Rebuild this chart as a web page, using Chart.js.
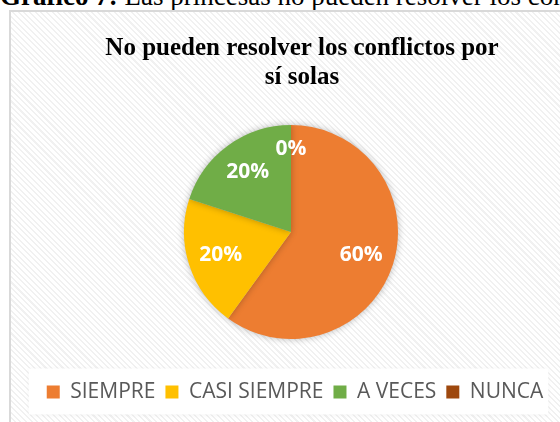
<!DOCTYPE html>
<html lang="es">
<head>
    <meta charset="UTF-8">
    <title>Gráfico 7</title>
    <script src="https://cdn.jsdelivr.net/npm/chart.js"></script>
</head>
<body>
<div class="caption"><b>Gráfico 7:</b> Las princesas no pueden resolver los conflictos por sí solas</div>
<div class="chart-frame"></div>
<canvas id="pieChart" width="560" height="422"></canvas>

<script>
    // Data
    const categories = ['SIEMPRE', 'CASI SIEMPRE', 'A VECES', 'NUNCA'];
    const percentages = [60, 20, 20, 0];
    const sliceColors = ['#ED7D31', '#FFC000', '#70AD47', '#9E480E'];
    const chartTitle = ['No pueden resolver los conflictos por', 'sí solas'];

    // Percent labels inside each slice (like Excel data labels)
    const sliceLabels = {
        id: 'sliceLabels',
        afterDatasetsDraw(chart) {
            const ctx = chart.ctx;
            const meta = chart.getDatasetMeta(0);
            ctx.save();
            ctx.font = 'bold 21px "Open Sans"';
            ctx.fillStyle = '#ffffff';
            ctx.textAlign = 'center';
            ctx.textBaseline = 'middle';
            meta.data.forEach((arc, i) => {
                const p = arc.getProps(['x', 'y', 'startAngle', 'endAngle', 'outerRadius'], true);
                const mid = (p.startAngle + p.endAngle) / 2;
                const dist = p.outerRadius * (percentages[i] === 0 ? 0.78 : 0.69);
                ctx.fillText(percentages[i] + '%', p.x + Math.cos(mid) * dist, p.y + Math.sin(mid) * dist);
            });
            ctx.restore();
        }
    };

    // soft shadow round the pie, white panel behind the legend, small offsets
    const decorations = {
        id: 'decorations',
        afterLayout(chart) {
            chart.titleBlock.left += 11;
            chart.titleBlock.right += 11;
            chart.legend.left += 4;
            chart.legend.right += 4;
        },
        beforeDatasetsDraw(chart) {
            chart.ctx.save();
            chart.ctx.shadowColor = 'rgba(0,0,0,0.28)';
            chart.ctx.shadowBlur = 7;
        },
        afterDatasetsDraw(chart) {
            chart.ctx.restore();
        },
        beforeDraw(chart) {
            const lg = chart.legend;
            if (!lg.legendHitBoxes || !lg.legendHitBoxes.length) return;
            const boxes = lg.legendHitBoxes;
            const x0 = boxes[0].left - 18;
            const x1 = boxes[boxes.length - 1].left + boxes[boxes.length - 1].width + 5;
            const y0 = boxes[0].top - 13;
            const y1 = boxes[0].top + boxes[0].height + 12;
            const ctx = chart.ctx;
            ctx.save();
            ctx.shadowColor = 'rgba(0,0,0,0.06)';
            ctx.shadowBlur = 4;
            ctx.fillStyle = 'rgba(255,255,255,0.95)';
            ctx.fillRect(x0, y0, x1 - x0, y1 - y0);
            ctx.restore();
        }
    };

    const ctx = document.getElementById('pieChart').getContext('2d');
    new Chart(ctx, {
        type: 'pie',
        data: {
            labels: categories,
            datasets: [{
                data: percentages,
                backgroundColor: sliceColors,
                borderWidth: 0,
                radius: 107
            }]
        },
        options: {
            responsive: false,
            animation: false,
            layout: { padding: { left: 22, right: 0, top: 0, bottom: 9.5 } },
            plugins: {
                title: {
                    display: true,
                    text: chartTitle,
                    color: '#000000',
                    font: { family: '"Liberation Serif", "Times New Roman", serif', size: 25, weight: 'bold', lineHeight: 1.16 },
                    padding: { top: 34, bottom: 0.5 }
                },
                legend: {
                    position: 'bottom',
                    labels: {
                        color: '#595959',
                        font: { family: '"Open Sans", sans-serif', size: 21 },
                        boxWidth: 13,
                        boxHeight: 13,
                        padding: 10
                    }
                },
                tooltip: { enabled: false }
            }
        },
        plugins: [decorations, sliceLabels]
    });
</script>

<style>
    body {
        margin: 0;
        width: 560px;
        height: 422px;
        overflow: hidden;
        position: relative;
        background: #ffffff;
    }

    .caption {
        position: absolute;
        left: 0;
        top: -17px;
        font-family: "Liberation Serif", "Times New Roman", serif;
        font-size: 27px;
        line-height: 27px;
        white-space: nowrap;
        color: #000;
    }

    .chart-frame {
        position: absolute;
        left: 9px;
        top: 10px;
        width: 600px;
        height: 450px;
        border: 2px solid #d9d9d9;
        background: repeating-linear-gradient(45deg, #ffffff 0px, #ffffff 2.5px, #f1f1f1 2.5px, #f1f1f1 4px);
    }

    #pieChart {
        position: absolute;
        left: 0;
        top: 0;
    }
</style>
</body>
</html>
